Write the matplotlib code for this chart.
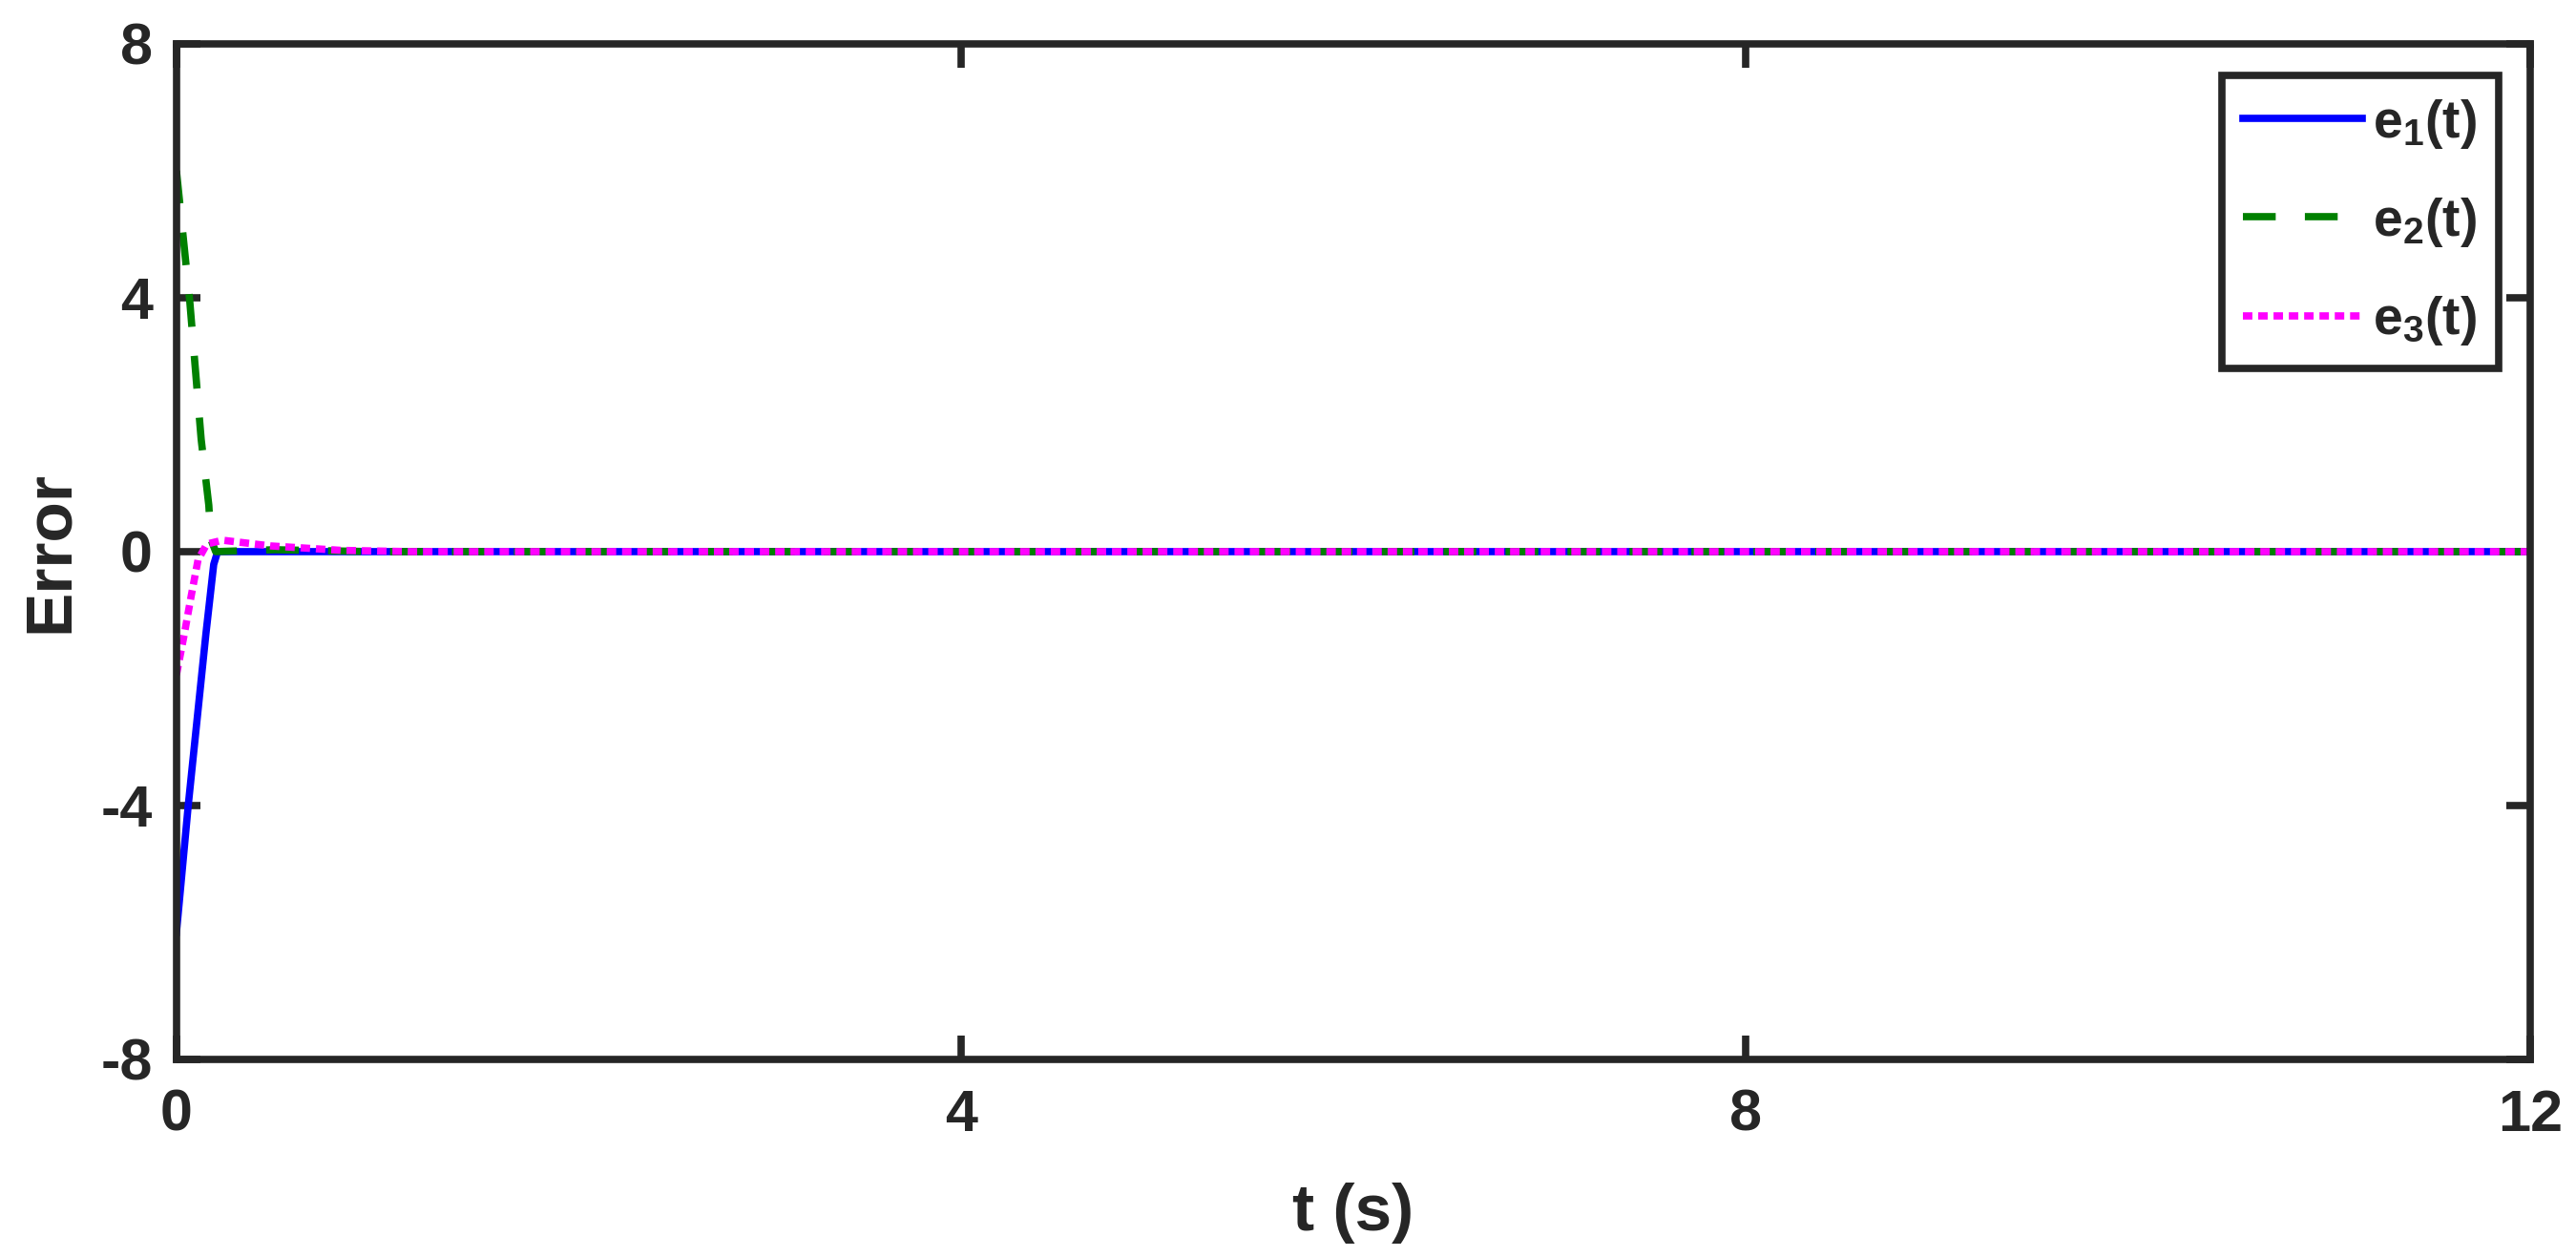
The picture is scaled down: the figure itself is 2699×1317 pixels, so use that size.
import matplotlib
matplotlib.use('Agg')
import matplotlib.pyplot as plt

# ----------------------------------------------------------------------
# Error signals (transient part, then flat at zero)
t_e1 = [0, 0.015, 0.06, 0.1, 0.15, 0.19, 0.21, 0.5, 1.0, 4, 8, 12]
e1 = [-6.0, -5.5, -4.0, -2.8, -1.3, -0.2, 0.0, 0.0, 0.0, 0.0, 0.0, 0.0]

t_e2 = [0, 0.068, 0.126, 0.165, 0.175, 0.2, 0.5, 1.0, 4, 8, 12]
e2 = [6.0, 3.94, 1.77, 0.73, 0.2, 0.0, 0.03, 0.0, 0.0, 0.0, 0.0]

t_e3 = [0, 0.04, 0.075, 0.11, 0.155, 0.235, 0.48, 0.84, 1.2, 4, 8, 12]
e3 = [-1.94, -1.3, -0.7, -0.13, 0.12, 0.18, 0.09, 0.02, 0.0, 0.0, 0.0, 0.0]

labels = ['e$_1$(t)', 'e$_2$(t)', 'e$_3$(t)']
x_ticks = [0, 4, 8, 12]
y_ticks = [-8, -4, 0, 4, 8]
# ----------------------------------------------------------------------

plt.rcParams['font.family'] = ['Liberation Sans', 'DejaVu Sans']
plt.rcParams['font.weight'] = 'bold'
plt.rcParams['mathtext.fontset'] = 'custom'
plt.rcParams['mathtext.rm'] = 'Liberation Sans:bold'
plt.rcParams['mathtext.it'] = 'Liberation Sans:bold'
plt.rcParams['mathtext.bf'] = 'Liberation Sans:bold'
plt.rcParams['axes.unicode_minus'] = False

axis_color = '#262626'
lw = 5.5

fig = plt.figure(figsize=(26.99, 13.17), dpi=100)
ax = fig.add_axes([0.0685, 0.1572, 0.9137, 0.8079])

ax.plot(t_e1, e1, color='#0000FF', lw=lw, label=labels[0])
ax.plot(t_e2, e2, color='#008000', lw=lw, linestyle=(0, (4.5, 4.0)),
        dash_capstyle='butt', label=labels[1])
ax.plot(t_e3, e3, color='#FF00FF', lw=lw, linestyle=(0, (1.3, 0.8)),
        dash_capstyle='butt', label=labels[2])

ax.set_xlim(0, 12)
ax.set_ylim(-8, 8)
ax.set_xticks(x_ticks)
ax.set_yticks(y_ticks)
ax.set_xticklabels([str(v) for v in x_ticks])
ax.set_yticklabels([str(v) for v in y_ticks])

for side in ['left', 'right', 'top', 'bottom']:
    ax.spines[side].set_linewidth(5.5)
    ax.spines[side].set_color(axis_color)

ax.tick_params(axis='both', which='major', direction='in', length=18, width=5.5,
               color=axis_color, labelcolor=axis_color, labelsize=44,
               top=True, right=True)
ax.tick_params(axis='x', pad=22)
ax.tick_params(axis='y', pad=18)

ax.set_xlabel('t (s)', fontsize=50, fontweight='bold', color=axis_color, labelpad=30)
ax.set_ylabel('Error', fontsize=50, fontweight='bold', color=axis_color, labelpad=15)

leg = ax.legend(loc='upper right', fontsize=40, handlelength=2.25, handletextpad=0.2,
                labelspacing=0.85, borderpad=0.4, borderaxespad=0.6,
                fancybox=False, framealpha=1.0)
leg.get_frame().set_edgecolor(axis_color)
leg.get_frame().set_linewidth(5.5)
for txt in leg.get_texts():
    txt.set_color(axis_color)

fig.savefig('out.png', dpi=100)
